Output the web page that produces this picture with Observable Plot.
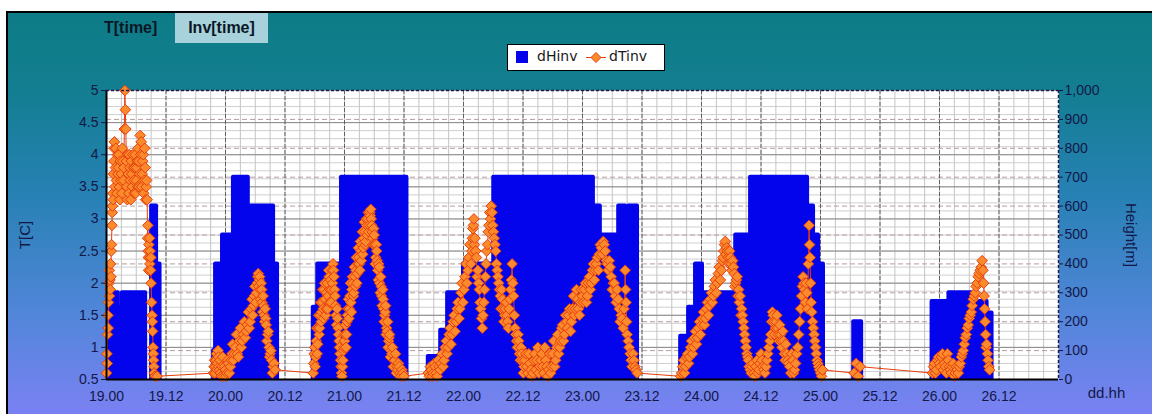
<!DOCTYPE html>
<html><head><meta charset="utf-8">
<script src="https://cdn.jsdelivr.net/npm/d3@7"></script>
<script src="https://cdn.jsdelivr.net/npm/@observablehq/plot@0.6"></script>
<style>
html,body{margin:0;padding:0;background:#fff;}
#wrap{position:relative;width:1152px;height:414px;overflow:hidden;background:#fff;font-family:"Liberation Sans",Arial,sans-serif;}
#panel{position:absolute;left:6px;top:11px;width:1146px;height:403px;border-left:2px solid #000;border-top:2px solid #000;
 background:linear-gradient(to bottom,#0e7c86 0%,#127e90 18%,#2781b4 45%,#5286da 75%,#7b81f3 100%);}
#chart{position:absolute;left:0;top:0;}
.tab{position:absolute;font-weight:bold;font-size:16px;color:#0a1626;white-space:nowrap;}
#legend{position:absolute;left:507px;top:44px;width:156px;height:25px;background:#fff;border:1px solid #000;font-family:"DejaVu Sans",sans-serif;font-size:14px;color:#1a1a1a;}
#legend span{position:absolute;top:3px;}
</style></head>
<body>
<div id="wrap">
  <div id="panel"></div>
  <div id="chart"></div>
  <div id="tabs"></div>
  <div id="legend"></div>
</div>
<script>
// ---- labels ----
const tabNames = ["T[time]", "Inv[time]"];
const seriesNames = ["dHinv", "dTinv"];
const xTickHours = [0,12,24,36,48,60,72,84,96,108,120,132,144,156,168,180];
const xTickLabels = ["19.00","19.12","20.00","20.12","21.00","21.12","22.00","22.12","23.00","23.12","24.00","24.12","25.00","25.12","26.00","26.12"];
const leftTicks = [0.5,1,1.5,2,2.5,3,3.5,4,4.5,5];
const heightTicks = [0,100,200,300,400,500,600,700,800,900,1000];
const heightLabels = ["0","100","200","300","400","500","600","700","800","900","1,000"];

// ---- dHinv: inversion height runs (hours since 19.00, metres) ----
const invStartHour = [0.2,2.4,3.2,9.1,10.1, 21.6,22.0,23.4,25.6,28.6,33.7, 41.7,42.6,47.4,
  64.9,67.4,68.8,72.0,78.1,98.2,99.6,103.3,104.7,105.3,
  115.8,117.4,118.8,120.2,126.9,129.9,141.4,142.6,143.6, 150.7,
  166.5,169.9,171.2,171.6,174.9,177.6];
const invEndHour = [2.4,3.2,7.9,10.1,10.8, 22.0,23.4,25.6,28.6,33.7,34.5, 42.6,47.4,60.6,
  67.4,68.8,72.0,78.1,98.2,99.6,103.3,104.7,105.3,107.1,
  117.4,118.8,120.2,126.9,129.9,141.4,142.6,143.6,144.6, 152.3,
  169.9,171.2,171.6,174.9,177.6,178.6];
const invHeightM = [300,250,300,600,400, 100,400,500,700,600,400, 250,400,700,
  80,170,300,400,700,600,500,600,500,600,
  150,250,400,300,500,700,600,500,400, 200,
  270,300,270,300,270,230];

// ---- dTinv: temperature difference [C] (hours since 19.00, value) ----
const dTinv19 = [[0.0,0.6],[0.1,0.9],[0.2,1.2],[0.3,1.5],[0.4,1.7],[0.5,2.0],[0.6,1.8],[0.7,2.05],[0.8,2.3],[0.9,2.1],
 [1.0,2.6],[1.1,2.9],[1.2,3.2],[1.3,3.4],[1.4,3.7],[1.5,3.9],[1.6,4.2],[1.8,3.8],[2.0,3.6],[2.2,4.0],[2.4,3.8],[2.6,3.5],
 [2.8,3.9],[3.0,3.7],[3.2,4.1],[3.4,3.6],[3.6,4.4],[3.7,5.0],[3.8,4.7],[3.9,4.4],[4.0,3.9],[4.2,3.3],[4.4,3.7],[4.6,4.0],
 [4.8,3.6],[5.0,3.9],[5.2,3.5],[5.4,3.8],[5.6,3.4],[5.8,4.0],[6.0,3.6],[6.2,3.9],[6.4,4.1],[6.6,3.5],[6.8,4.3],[7.0,4.2],
 [7.2,3.7],[7.4,4.0],[7.6,3.6],[7.8,3.8],[8.0,3.5],[8.2,3.3],[8.3,2.7],[8.4,2.5],[8.5,2.2],[8.6,2.4],[8.7,2.7],[8.8,2.5],
 [8.9,2.2],[9.0,2.0],[9.2,1.5],[9.3,1.25],[9.4,1.0],[9.5,0.8],[9.6,0.6],[9.8,0.55],[10.2,0.55]];
const dTinv19b = [[0.15,0.75],[0.35,1.3],[0.55,2.2],[0.75,1.9],[0.95,2.5],[1.15,3.1],[1.35,3.3],[1.55,4.1],[1.7,3.5],
 [1.9,4.1],[2.1,3.4],[2.3,3.7],[2.5,4.0],[2.7,3.3],[2.9,3.6],[3.1,3.4],[3.3,3.9],[3.5,3.8],[4.1,3.5],[4.3,4.0],[4.5,3.4],
 [4.7,3.8],[4.9,3.3],[5.1,3.7],[5.3,4.0],[5.5,3.6],[5.7,3.8],[5.9,3.4],[6.1,3.8],[6.3,3.5],[6.5,3.9],[6.7,3.7],[6.9,4.0],
 [7.1,3.5],[7.3,3.9],[7.5,3.4],[7.7,4.1],[7.9,3.3],[8.1,3.6],[8.35,2.9],[8.45,2.4],[8.55,2.6],[8.75,2.3],[8.95,2.4],
 [9.1,1.7],[9.25,1.4],[9.45,0.9],[9.55,0.7]];
const dTinv20 = [[21.6,0.6],[21.8,0.8],[22.0,0.7],[22.2,0.9],[22.4,0.75],[22.6,0.85],[22.8,0.65],[23.0,0.6],[23.3,0.7],
 [23.6,0.55],[24.0,0.65],[24.3,0.6],[24.6,0.75],[25.0,0.7],[25.3,0.9],[25.6,0.8],[26.0,1.0],[26.4,0.9],[26.8,1.1],[27.2,1.0],
 [27.6,1.2],[28.0,1.15],[28.4,1.35],[28.8,1.3],[29.2,1.6],[29.5,1.5],[29.8,1.8],[30.1,1.7],[30.4,2.0],[30.6,2.15],[30.8,2.05],
 [31.0,1.9],[31.2,2.0],[31.4,1.7],[31.6,1.8],[31.8,1.5],[32.0,1.6],[32.2,1.35],[32.5,1.2],[32.8,1.0],[33.0,0.9],[33.3,0.8],
 [33.6,0.7],[34.0,0.65]];
const dTinv20b = [[21.7,0.7],[21.9,0.6],[22.1,0.8],[22.3,0.65],[22.5,0.95],[22.7,0.7],[22.9,0.8],[23.15,0.55],[23.45,0.85],
 [23.8,0.7],[24.15,0.55],[24.45,0.8],[24.8,0.6],[25.15,0.8],[25.45,1.05],[25.8,0.9],[26.2,1.2],[26.6,0.85],[27.0,1.3],
 [27.4,1.1],[27.8,1.4],[28.2,1.25],[28.6,1.55],[29.0,1.4],[29.35,1.75],[29.65,1.65],[29.95,1.95],[30.25,1.85],[30.5,2.1],
 [30.7,1.95],[30.9,2.1],[31.1,1.75],[31.3,1.9],[31.5,1.55],[31.7,1.65],[31.9,1.4],[32.1,1.45],[32.35,1.1],[32.65,1.25],
 [32.9,0.85],[33.15,0.95],[33.45,0.6],[33.8,0.75]];
const dTinv21 = [[41.7,0.6],[41.9,0.9],[42.1,0.7],[42.3,1.1],[42.5,0.9],[42.7,1.3],[42.9,1.2],[43.1,1.5],[43.3,1.4],[43.5,1.7],
 [43.7,1.6],[43.9,1.9],[44.1,1.75],[44.3,1.6],[44.5,2.0],[44.7,1.8],[44.9,2.1],[45.1,1.9],[45.3,1.7],[45.5,2.2],[45.7,2.3],
 [45.9,2.1],[46.1,1.8],[46.3,1.5],[46.5,1.6],[46.7,1.3],[46.9,1.1],[47.1,0.9],[47.3,0.7],[47.5,0.55],[47.7,0.8],[47.9,1.0],
 [48.1,1.2],[48.3,1.0],[48.5,1.4],[48.7,1.6],[48.9,1.45],[49.1,1.8],[49.3,1.7],[49.5,1.9],[49.7,2.0],[49.9,1.85],[50.1,2.1],
 [50.3,2.2],[50.5,2.0],[50.7,2.3],[50.9,2.4],[51.1,2.2],[51.3,2.5],[51.5,2.6],[51.7,2.45],[51.9,2.7],[52.1,2.8],[52.3,2.65],
 [52.5,2.9],[52.7,3.0],[52.9,2.8],[53.1,3.1],[53.3,3.15],[53.5,2.9],[53.7,2.7],[53.9,2.85],[54.1,2.6],[54.3,2.4],[54.5,2.5],
 [54.7,2.2],[54.9,2.3],[55.1,2.0],[55.3,2.1],[55.5,1.8],[55.7,1.9],[55.9,1.6],[56.1,1.5],[56.3,1.65],[56.5,1.3],[56.7,1.4],
 [56.9,1.1],[57.1,1.2],[57.4,0.95],[57.7,1.0],[58.0,0.8],[58.3,0.9],[58.6,0.7],[58.9,0.75],[59.2,0.6],[59.6,0.65],[60.0,0.55]];
const dTinv21b = [[41.8,0.75],[42.0,1.0],[42.2,0.85],[42.4,1.3],[42.6,1.05],[42.8,1.5],[43.0,1.3],[43.2,1.7],[43.4,1.55],
 [43.6,1.9],[43.8,1.45],[44.0,2.0],[44.2,1.5],[44.4,1.85],[44.6,1.6],[44.8,2.2],[45.0,1.7],[45.2,2.05],[45.4,1.9],[45.6,2.0],
 [45.8,2.2],[46.0,1.9],[46.2,1.65],[46.4,1.35],[46.6,1.45],[46.8,1.2],[47.0,1.0],[47.2,0.8],[47.4,0.6],[47.6,0.7],[47.8,0.95],
 [48.0,1.1],[48.2,1.35],[48.4,1.2],[48.6,1.5],[48.8,1.75],[49.0,1.6],[49.2,2.0],[49.4,1.55],[49.6,2.1],[49.8,1.8],[50.0,2.25],
 [50.2,1.95],[50.4,2.4],[50.6,2.15],[50.8,2.55],[51.0,2.3],[51.2,2.65],[51.4,2.35],[51.6,2.8],[51.8,2.55],[52.0,2.95],
 [52.2,2.6],[52.4,3.0],[52.6,2.75],[52.8,3.1],[53.0,2.9],[53.2,3.05],[53.4,3.0],[53.6,2.8],[53.8,2.6],[54.0,2.75],[54.2,2.3],
 [54.4,2.6],[54.6,2.35],[54.8,2.05],[55.0,2.25],[55.2,1.85],[55.4,1.95],[55.6,1.65],[55.8,1.75],[56.0,1.4],[56.2,1.55],
 [56.4,1.2],[56.6,1.25],[56.8,1.0],[57.0,1.15],[57.25,0.85],[57.55,0.9],[57.85,0.7],[58.15,0.8],[58.45,0.6],[58.75,0.65],
 [59.05,0.7],[59.4,0.55],[59.8,0.6]];
const dTinv22 = [[64.9,0.6],[65.3,0.7],[65.7,0.55],[66.1,0.75],[66.5,0.6],[66.9,0.8],[67.3,0.65],[67.7,0.9],[68.1,0.8],
 [68.5,1.1],[68.9,1.0],[69.3,1.3],[69.7,1.2],[70.1,1.5],[70.5,1.4],[70.9,1.7],[71.3,1.6],[71.7,2.0],[72.1,1.9],[72.5,2.3],
 [72.9,2.2],[73.3,2.6],[73.7,2.5],[73.9,2.85],[74.1,3.0],[74.3,2.7],[74.6,2.4],[74.9,2.2],[75.2,1.9],[75.5,1.6],[75.8,1.3],
 [76.1,1.7],[76.4,2.1],[76.7,2.5],[77.0,2.8],[77.3,3.1],[77.6,3.2],[77.9,2.9],[78.2,2.7],[78.5,2.5],[78.8,2.2],[79.1,2.0],
 [79.4,1.8],[79.7,1.9],[80.0,1.6],[80.3,1.5],[80.6,1.7],[80.9,1.4],[81.2,1.6],[81.5,1.9],[81.8,2.3],[82.1,1.8],[82.4,1.3],
 [82.7,1.1],[83.0,1.2],[83.3,0.9],[83.6,1.0],[83.9,0.8],[84.2,0.7],[84.6,0.9],[85.0,0.6],[85.4,0.75],[85.8,0.55],[86.2,0.8],
 [86.6,0.65],[87.0,1.0],[87.4,0.7],[87.8,0.9],[88.2,0.6],[88.6,0.8],[89.0,0.55],[89.4,0.9],[89.8,0.7],[90.2,1.1],[90.6,0.8],
 [91.0,1.2],[91.4,1.0],[91.8,1.3],[92.2,1.1],[92.6,1.5],[93.0,1.3],[93.4,1.6],[93.8,1.4],[94.2,1.8],[94.6,1.6],[95.0,1.75],
 [95.4,1.5],[95.8,1.9],[96.2,1.7],[96.6,2.0],[97.0,1.8],[97.4,2.1],[97.8,2.0],[98.2,2.3],[98.6,2.2],[99.0,2.4],[99.4,2.45],
 [99.8,2.55],[100.2,2.65],[100.6,2.5],[101.0,2.3],[101.4,2.35],[101.8,2.1],[102.2,2.0],[102.6,1.8],[103.0,1.9],[103.4,1.6],
 [103.8,1.5],[104.2,1.3],[104.6,2.2],[104.8,1.7],[105.0,1.2],[105.4,1.0],[105.8,0.8],[106.2,0.9],[106.6,0.7],[107.0,0.6]];
const dTinv22b = [[65.1,0.55],[65.5,0.65],[65.9,0.6],[66.3,0.7],[66.7,0.55],[67.1,0.7],[67.5,0.75],[67.9,0.7],[68.3,1.0],
 [68.7,0.9],[69.1,1.2],[69.5,1.05],[69.9,1.4],[70.3,1.25],[70.7,1.6],[71.1,1.45],[71.5,1.85],[71.9,1.7],[72.3,2.1],[72.7,2.0],
 [73.1,2.4],[73.5,2.3],[73.8,2.7],[74.0,2.9],[74.2,2.6],[74.45,2.5],[74.75,2.1],[75.05,2.0],[75.35,1.7],[75.65,1.45],
 [75.95,1.5],[76.25,1.9],[76.55,2.3],[76.85,2.6],[77.15,2.9],[77.45,3.0],[77.75,3.1],[78.05,2.8],[78.35,2.6],[78.65,2.3],
 [78.95,2.1],[79.25,1.9],[79.55,1.6],[79.85,1.75],[80.15,1.4],[80.45,1.6],[80.75,1.5],[81.05,1.3],[81.35,1.75],[81.65,2.05],
 [81.95,2.0],[82.25,1.5],[82.55,1.2],[82.85,1.0],[83.15,1.1],[83.45,0.8],[83.75,0.9],[84.05,0.6],[84.4,0.8],[84.8,0.7],
 [85.2,0.9],[85.6,0.65],[86.0,0.6],[86.4,0.9],[86.8,0.8],[87.2,0.6],[87.6,0.8],[88.0,0.7],[88.4,1.0],[88.8,0.7],[89.2,0.65],
 [89.6,0.6],[90.0,0.9],[90.4,0.7],[90.8,1.0],[91.2,0.9],[91.6,1.1],[92.0,1.35],[92.4,1.2],[92.8,1.4],[93.2,1.5],[93.6,1.25],
 [94.0,1.6],[94.4,1.5],[94.8,1.9],[95.2,1.6],[95.6,1.7],[96.0,1.8],[96.4,1.9],[96.8,1.7],[97.2,2.0],[97.6,1.9],[98.0,2.2],
 [98.4,2.05],[98.8,2.3],[99.2,2.2],[99.6,2.6],[100.0,2.45],[100.4,2.6],[100.8,2.35],[101.2,2.2],[101.6,2.25],[102.0,1.9],
 [102.4,2.0],[102.8,1.7],[103.2,1.75],[103.6,1.4],[104.0,1.45],[104.4,1.6],[104.7,1.9],[104.9,1.4],[105.2,1.1],[105.6,0.9],
 [106.0,0.7],[106.4,0.8],[106.8,0.65]];
const dTinv24 = [[115.8,0.55],[116.2,0.7],[116.6,0.6],[117.0,0.85],[117.4,0.75],[117.8,1.0],[118.2,0.9],[118.6,1.15],
 [119.0,1.05],[119.4,1.3],[119.8,1.2],[120.2,1.45],[120.6,1.35],[121.0,1.6],[121.4,1.5],[121.8,1.75],[122.2,1.7],[122.6,1.95],
 [123.0,1.85],[123.4,2.15],[123.8,2.05],[124.2,2.35],[124.5,2.5],[124.8,2.65],[125.1,2.55],[125.4,2.4],[125.7,2.5],[126.0,2.3],
 [126.3,2.35],[126.6,2.15],[126.9,2.0],[127.2,2.1],[127.5,1.9],[127.8,1.8],[128.1,1.6],[128.4,1.4],[128.7,1.2],[129.0,1.0],
 [129.3,0.85],[129.6,0.7],[130.0,0.6],[130.4,0.75],[130.8,0.55],[131.2,0.8],[131.6,0.65],[132.0,0.9],[132.4,0.7],[132.8,0.6],
 [133.2,0.8],[133.6,1.0],[134.0,1.2],[134.3,1.55],[134.6,1.4],[134.9,1.3],[135.2,1.5],[135.5,1.2],[135.8,1.35],[136.1,1.1],
 [136.4,1.25],[136.7,0.9],[137.0,1.05],[137.4,0.8],[137.8,0.7],[138.2,0.9],[138.6,0.6],[139.0,0.75],[139.4,1.0],[139.8,1.4],
 [140.2,1.8],[140.5,2.1],[140.8,1.9],[141.1,2.0],[141.4,1.6],[141.7,2.9],[141.9,2.4],[142.1,1.7],[142.4,1.4],[142.7,1.2],
 [143.0,1.0],[143.3,0.8],[143.6,0.7],[144.0,0.6],[144.4,0.65]];
const dTinv24b = [[116.0,0.6],[116.4,0.8],[116.8,0.7],[117.2,0.9],[117.6,0.85],[118.0,1.1],[118.4,1.0],[118.8,1.25],
 [119.2,1.15],[119.6,1.4],[120.0,1.35],[120.4,1.55],[120.8,1.45],[121.2,1.7],[121.6,1.65],[122.0,1.85],[122.4,1.8],[122.8,2.05],
 [123.2,2.0],[123.6,2.25],[124.0,2.2],[124.35,2.4],[124.65,2.6],[124.95,2.45],[125.25,2.5],[125.55,2.3],[125.85,2.4],
 [126.15,2.2],[126.45,2.25],[126.75,1.95],[127.05,2.05],[127.35,1.8],[127.65,1.7],[127.95,1.5],[128.25,1.5],[128.55,1.3],
 [128.85,1.1],[129.15,0.9],[129.45,0.8],[129.8,0.65],[130.2,0.7],[130.6,0.6],[131.0,0.7],[131.4,0.6],[131.8,0.75],[132.2,0.8],
 [132.6,0.65],[133.0,0.7],[133.4,0.9],[133.8,1.1],[134.15,1.4],[134.45,1.5],[134.75,1.2],[135.05,1.4],[135.35,1.3],
 [135.65,1.1],[135.95,1.2],[136.25,1.0],[136.55,1.1],[136.85,0.8],[137.2,0.9],[137.6,0.75],[138.0,0.6],[138.4,0.8],
 [138.8,0.65],[139.2,0.9],[139.6,1.2],[140.0,1.6],[140.35,1.95],[140.65,2.0],[140.95,1.7],[141.25,1.85],[141.55,2.3],
 [141.8,2.6],[142.0,2.0],[142.25,1.55],[142.55,1.3],[142.85,1.1],[143.15,0.9],[143.45,0.75],[143.8,0.65],[144.2,0.55]];
const dTinv25 = [[150.8,0.6],[151.2,0.75],[151.6,0.55],[152.0,0.7]];
const dTinv26 = [[166.6,0.6],[167.0,0.75],[167.4,0.65],[167.8,0.85],[168.2,0.7],[168.6,0.9],[169.0,0.75],[169.4,0.6],
 [169.8,0.8],[170.2,0.65],[170.6,0.7],[171.0,0.55],[171.4,0.7],[171.8,0.6],[172.2,0.75],[172.6,0.9],[173.0,1.05],[173.4,1.2],
 [173.8,1.35],[174.2,1.5],[174.6,1.65],[175.0,1.8],[175.4,1.95],[175.8,2.1],[176.2,2.2],[176.6,2.35],[176.9,2.0],[177.1,1.6],
 [177.3,1.2],[177.5,1.05],[177.8,0.8],[178.1,0.65]];
const dTinv26b = [[166.8,0.7],[167.2,0.6],[167.6,0.8],[168.0,0.75],[168.4,0.85],[168.8,0.65],[169.2,0.7],[169.6,0.9],
 [170.0,0.7],[170.4,0.6],[170.8,0.75],[171.2,0.6],[171.6,0.65],[172.0,0.7],[172.4,0.85],[172.8,0.95],[173.2,1.15],[173.6,1.3],
 [174.0,1.45],[174.4,1.55],[174.8,1.75],[175.2,1.85],[175.6,2.0],[176.0,2.15],[176.4,2.25],[176.75,2.2],[177.0,1.8],
 [177.2,1.4],[177.4,1.0],[177.65,0.9],[177.95,0.7]];

// ---- colours ----
const blue = "#0404ec", orangeFill = "#fb8a2c", orangeStroke = "#e63e0c";

// height (m) -> position on the T[C] scale (0 m = 0.5, 1000 m = 5)
const mToT = m => 0.5 + m * 4.5 / 1000;

const runs = invStartHour.map((s, i) => ({start: s, end: invEndHour[i], h: invHeightM[i]}));
const temps = [...dTinv19, ...dTinv19b, ...dTinv20, ...dTinv20b, ...dTinv21, ...dTinv21b, ...dTinv22, ...dTinv22b,
  ...dTinv24, ...dTinv24b, ...dTinv25, ...dTinv26, ...dTinv26b]
  .map(([h, v]) => ({h, v}))
  .sort((a, b) => a.h - b.h);
const heightT = heightTicks.map(mToT);

const chart = Plot.plot({
  width: 1152, height: 414,
  marginLeft: 106, marginRight: 94, marginTop: 90, marginBottom: 35,
  x: {domain: [0, 192], label: null},
  y: {domain: [0.5, 5], label: null},
  style: {background: "transparent", fontFamily: "Liberation Sans, Arial, sans-serif", fontSize: "14px", color: "#131848", overflow: "visible"},
  marks: [
    Plot.frame({fill: "#ffffff", stroke: "none"}),
    Plot.ruleY(d3.range(0.5, 5.001, 0.125), {stroke: "#cfcfcf"}),
    Plot.ruleX(d3.range(0, 192.1, 3), {stroke: "#c4c4c4"}),
    Plot.ruleY(leftTicks, {stroke: "#888"}),
    Plot.ruleY(heightT, {stroke: "#b89c9c", strokeDasharray: "5,3"}),
    Plot.ruleX(xTickHours, {stroke: "#606060", strokeDasharray: "4,2"}),
    Plot.rect(runs, {x1: "start", x2: "end", y1: () => 0.5, y2: d => mToT(d.h),
      fill: blue, stroke: blue, strokeWidth: 4, strokeLinejoin: "round", clip: true}),
    Plot.line(temps, {x: "h", y: "v", stroke: orangeStroke, strokeWidth: 1}),
    Plot.dot(temps, {x: "h", y: "v", symbol: "diamond2", r: 4.8, fill: orangeFill, stroke: orangeStroke, strokeWidth: 1}),
    Plot.ruleX([0], {stroke: "#000", strokeWidth: 2}),
    Plot.ruleY([0.5], {stroke: "#000", strokeWidth: 2}),
    Plot.ruleY([5], {stroke: "#1a1a50", strokeWidth: 1.5, strokeDasharray: "3,2"}),
    Plot.ruleX([192], {stroke: "#1a1a50", strokeWidth: 1.5, strokeDasharray: "3,2"}),
    Plot.axisY({ticks: leftTicks, anchor: "left", tickSize: 5, tickPadding: 3, tickFormat: d => String(d), label: null}),
    Plot.axisY({ticks: heightT, anchor: "right", tickSize: 4, tickPadding: 2,
      tickFormat: d => heightLabels[heightT.indexOf(d)], label: null}),
    Plot.axisX({ticks: xTickHours, anchor: "bottom", tickSize: 0, tickPadding: 12,
      tickFormat: d => xTickLabels[xTickHours.indexOf(d)], label: null}),
    Plot.text(["T[C]"], {text: d => d, frameAnchor: "left", dx: -81, rotate: -90, textAnchor: "middle", fontSize: 15}),
    Plot.text(["Height[m]"], {text: d => d, frameAnchor: "right", dx: 72, rotate: 90, textAnchor: "middle", fontSize: 15}),
    Plot.text(["dd.hh"], {text: d => d, frameAnchor: "bottom-right", dx: 48, dy: 18, textAnchor: "middle", fontSize: 15})
  ]
});
document.getElementById("chart").appendChild(chart);

// tabs
const tabs = document.getElementById("tabs");
const t1 = document.createElement("div");
t1.className = "tab"; t1.textContent = tabNames[0];
t1.style.cssText = "left:104px;top:19px;";
const t2 = document.createElement("div");
t2.className = "tab"; t2.textContent = tabNames[1];
t2.style.cssText = "left:175px;top:13px;width:93px;height:30px;line-height:30px;text-align:center;background:#a7d2db;";
tabs.append(t1, t2);

// legend
const lg = document.getElementById("legend");
lg.innerHTML =
  `<div style="position:absolute;left:8px;top:6px;width:12px;height:12px;background:${blue}"></div>` +
  `<span style="left:29px">${seriesNames[0]}</span>` +
  `<svg style="position:absolute;left:78px;top:6px" width="20" height="13"><line x1="0" y1="6.5" x2="20" y2="6.5" stroke="${orangeStroke}"/><path d="M10,1.5 L15,6.5 L10,11.5 L5,6.5Z" fill="${orangeFill}" stroke="${orangeStroke}"/></svg>` +
  `<span style="left:101px">${seriesNames[1]}</span>`;
</script>
</body></html>
